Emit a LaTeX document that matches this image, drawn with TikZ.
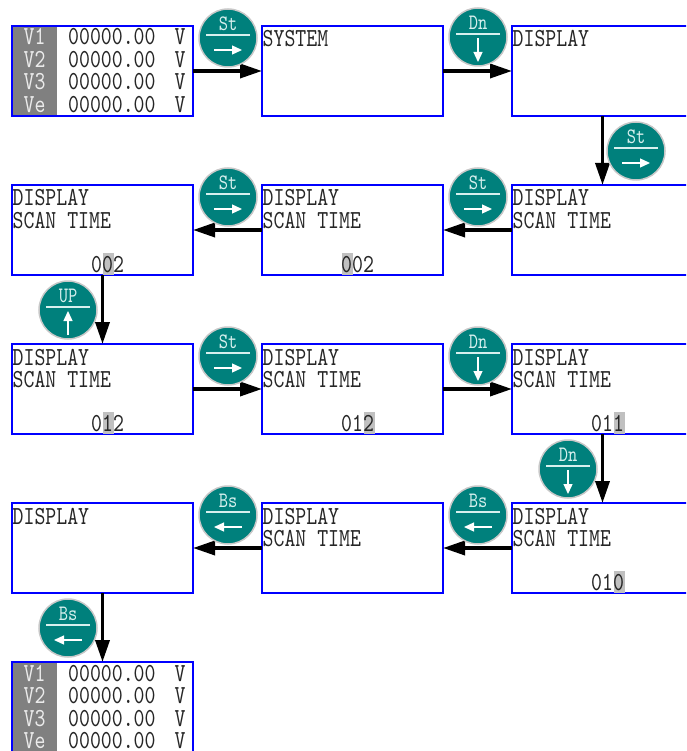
\documentclass[tikz,border=0pt]{standalone}
\usepackage{fontspec}
\newfontfamily\lcdfont{lmmono10-regular.otf}[FakeStretch=0.8]
\usetikzlibrary{arrows.meta,calc}

\definecolor{keyteal}{RGB}{0,128,124}
\definecolor{keyrim}{RGB}{200,200,200}
\definecolor{keyink}{RGB}{215,240,238}
\definecolor{lcdgray}{RGB}{128,128,128}
\definecolor{lcdhl}{RGB}{192,192,192}

\tikzset{
  screen/.style={draw=blue,line width=1.2pt,minimum width=181pt,minimum height=90pt,inner sep=0pt,outer sep=0pt},
  lcd/.style={font=\lcdfont\fontsize{26}{22}\selectfont,text=black!85,inner sep=0pt,anchor=base west},
  vlab/.style={font=\lcdfont\fontsize{26}{22}\selectfont,text=black!8,inner sep=0pt,anchor=base},
  key/.style={circle,fill=keyteal,draw=keyrim,line width=1.5pt,minimum size=58pt,inner sep=0pt},
  keylab/.style={font=\lcdfont\fontsize{22}{22}\selectfont,text=keyink,inner sep=0pt},
  flow/.style={line width=3.5pt,-{Triangle[length=22pt,width=14pt]}},
}

\begin{document}
\begin{tikzpicture}[x=1pt,y=-1pt]

\clip (0,0) rectangle (686,751);

% grey strips of the voltage screens
\fill[lcdgray] (12,26) rectangle (57,116);
\fill[lcdgray] (12,662) rectangle (57,752);

% screens
\foreach \nm/\lx/\ty in {s11/12/26,s12/262/26,s13/512/26,
	s21/12/185,s22/262/185,s23/512/185,
	s31/12/344,s32/262/344,s33/512/344,
	s41/12/503,s42/262/503,s43/512/503,s51/12/662}{
	\node[screen] (\nm) at ({\lx+90.5},{\ty+45}) {};
}

% screen texts
\foreach \nm/\txt/\dy in {s12/SYSTEM/21,s13/DISPLAY/21,
	s21/DISPLAY/21,s21/SCAN TIME/43,s22/DISPLAY/21,s22/SCAN TIME/43,s23/DISPLAY/21,s23/SCAN TIME/43,
	s31/DISPLAY/21,s31/SCAN TIME/43,s32/DISPLAY/21,s32/SCAN TIME/43,s33/DISPLAY/21,s33/SCAN TIME/43,
	s41/DISPLAY/21,s42/DISPLAY/21,s42/SCAN TIME/43,s43/DISPLAY/21,s43/SCAN TIME/43}{
	\node[lcd] (\nm t\dy) at ($(\nm.north west)+(0.5,\dy)$) {\txt};
}

% scan time values, cursor digit shaded
\foreach \nm/\num/\hl in {s21/002/1,s22/002/0,s31/012/1,s32/012/2,s33/011/2,s43/010/2}{
	\fill[lcdhl] ($(\nm.north west)+({80+11*\hl},68)$) rectangle ++(11,22);
	\node[lcd] (\nm n) at ($(\nm.north west)+(79,87)$) {\num};
}

% voltage readings
\foreach \ty/\bx in {26/s11,662/s51}{
	\foreach \v [count=\i] in {V1,V2,V3,Ve}{
		\node[vlab] (\bx v\i) at (34.5,{\ty+19+22.5*(\i-1)}) {\v};
		\node[lcd] (\bx n\i) at (68,{\ty+19+22.5*(\i-1)}) {00000.00};
		\node[vlab,text=black!85] (\bx u\i) at (180,{\ty+19+22.5*(\i-1)}) {V};
	}
}

% flow
\draw[flow] (s11.east)--(s12.west);
\draw[flow] (s12.east)--(s13.west);
\draw[flow] (s13.south)--(s23.north);
\draw[flow] (s23.west)--(s22.east);
\draw[flow] (s22.west)--(s21.east);
\draw[flow] (s21.south)--(s31.north);
\draw[flow] (s31.east)--(s32.west);
\draw[flow] (s32.east)--(s33.west);
\draw[flow] (s33.south)--(s43.north);
\draw[flow] (s43.west)--(s42.east);
\draw[flow] (s42.west)--(s41.east);
\draw[flow] (s41.south)--(s51.north);

% keys
\foreach \nm/\cx/\cy/\lab/\px/\py/\qx/\qy in {
	k1/228/38/St/-14/12/14/12,k2/478/37/Dn/0/1/0/25,k3/636/151/St/-14/12/14/12,
	k4/478/197/St/-14/12/14/12,k5/228/197/St/-14/12/14/12,k6/68/310/UP/0/25/0/1,
	k7/228/356/St/-14/12/14/12,k8/478/356/Dn/0/1/0/25,k9/568/469/Dn/0/1/0/25,
	k10/478/515/Bs/14/12/-14/12,k11/228/515/Bs/14/12/-14/12,k12/68/628/Bs/14/12/-14/12}{
	\node[key] (\nm) at (\cx,\cy) {};
	\node[keylab] (\nm l) at ($(\nm)+(0,-14)$) {\lab};
	\draw[keyink,line width=1.5pt] ($(\nm)+(-22,-3)$)--($(\nm)+(22,-3)$);
	\draw[white,line width=1.3pt,-{Triangle[length=10pt,width=9pt]}] ($(\nm)+(\px,\py)$)--($(\nm)+(\qx,\qy)$);
}

\end{tikzpicture}
\end{document}
